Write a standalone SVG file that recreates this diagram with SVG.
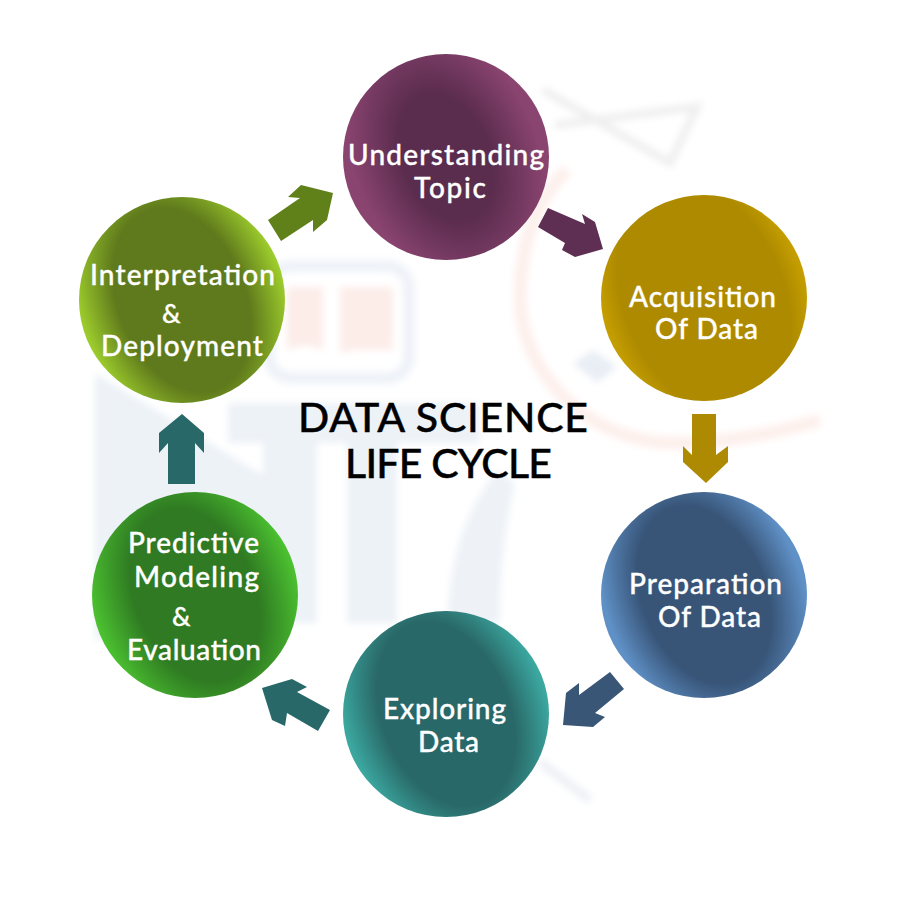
<svg xmlns="http://www.w3.org/2000/svg" width="900" height="900" viewBox="0 0 900 900">
<style>
text{font-family:"Lato","Noto Sans",sans-serif;font-weight:500}
.n{fill:#fff;stroke:#fff;stroke-width:.35px;font-size:28px}
.a{font-size:26px}
.t{fill:#000;stroke:#000;stroke-width:.45px;font-size:41px}
</style>
<defs>
<filter id="b" x="-20%" y="-20%" width="140%" height="140%"><feGaussianBlur stdDeviation="3.5"/></filter>
<radialGradient id="gP" gradientTransform="translate(.5 .5) rotate(-22) scale(1 1.5) translate(-.5 -.5)"><stop offset="0.42" stop-color="#5a2c4e"/><stop offset="0.9" stop-color="#8a4470"/></radialGradient>
<radialGradient id="gG" gradientTransform="translate(.5 .5) rotate(-22) scale(1 1.5) translate(-.5 -.5)"><stop offset="0.78" stop-color="#ae8a00"/><stop offset="1" stop-color="#c6a000"/></radialGradient>
<radialGradient id="gB" gradientTransform="translate(.5 .5) rotate(-22) scale(1 1.5) translate(-.5 -.5)"><stop offset="0.6" stop-color="#385578"/><stop offset="0.95" stop-color="#5f90c6"/></radialGradient>
<radialGradient id="gT" gradientTransform="translate(.5 .5) rotate(-22) scale(1 1.5) translate(-.5 -.5)"><stop offset="0.62" stop-color="#296868"/><stop offset="0.97" stop-color="#3ba79f"/></radialGradient>
<radialGradient id="gN" gradientTransform="translate(.5 .5) rotate(-22) scale(1 1.5) translate(-.5 -.5)"><stop offset="0.58" stop-color="#2f7a22"/><stop offset="0.98" stop-color="#4bc030"/></radialGradient>
<radialGradient id="gO" gradientTransform="translate(.5 .5) rotate(-22) scale(1 1.5) translate(-.5 -.5)"><stop offset="0.62" stop-color="#5f7a1c"/><stop offset="0.98" stop-color="#9ccb2c"/></radialGradient>
</defs>
<rect width="900" height="900" fill="#fff"/>
<g id="watermark" filter="url(#b)">
<path d="M95 373L263 475V623H317V443H228V403H480V443H397V623H347V443H317V443H263V640H95Z" fill="#edf2f7"/>
<path d="M447 623C450 560 462 515 497 470L515 483C505 530 500 570 500 623Z" fill="#eef2f7"/>
<rect x="269" y="266" width="140" height="112" rx="22" fill="none" stroke="#eef2f8" stroke-width="12"/>
<path d="M287 287H323V350L305 345L287 350Z" fill="#fcede9"/>
<path d="M340 287H393V350H355L340 353Z" fill="#fcede9"/>
<path d="M567 170C530 205 520 255 520 300C522 375 590 443 675 443C730 443 780 432 820 420" fill="none" stroke="#fdf0ec" stroke-width="13"/>
<path d="M573 363L593 350L617 367L597 383Z" fill="#e9eef5"/>
<path d="M543 90L670 163L697 107L555 125" fill="none" stroke="#efefef" stroke-width="8"/>
<path d="M540 762L590 800" fill="none" stroke="#edf0f5" stroke-width="9"/>
</g>
<g id="connectors">
<polygon fill="#5f2f53" points="548,208 585,224 582,214 595,222 603,249 575,257 562,250 565,243 538,227"/>
<polygon fill="#ad8a02" points="692,414 716,414 716,455 728,446 728,462 706,483 683,462 683,446 692,455"/>
<polygon fill="#395677" points="610,672 624,689 595,713 605,717 593,727 563,725 566,693 579,683 579,695"/>
<polygon fill="#296868" points="330,710 318,731 287,713 285,726 272,720 262,688 292,679 307,687 297,692"/>
<polygon fill="#296868" points="168,484 195,484 195,443 204,453 204,433 182,414 159,433 159,453 168,443"/>
<polygon fill="#60801a" points="268,220 281,241 313,220 313,232 327,220 333,193 301,185 288,197 300,198"/>
</g>
<g id="understanding"><circle cx="446" cy="157" r="103" fill="url(#gP)"/>
<text class="n" x="348" y="165" textLength="196">Understanding</text>
<text class="n" x="414" y="198" textLength="72">Topic</text></g>
<g id="acquisition"><circle cx="704" cy="298" r="103" fill="url(#gG)"/>
<text class="n" x="629" y="307" textLength="147">Acquisition</text>
<text class="n" x="655" y="339" textLength="103">Of Data</text></g>
<g id="preparation"><circle cx="704" cy="595" r="103" fill="url(#gB)"/>
<text class="n" x="629" y="594" textLength="153">Preparation</text>
<text class="n" x="658" y="627" textLength="103">Of Data</text></g>
<g id="exploring"><circle cx="446" cy="714" r="103" fill="url(#gT)"/>
<text class="n" x="383" y="719" textLength="123">Exploring</text>
<text class="n" x="418" y="752" textLength="61">Data</text></g>
<g id="predictive"><circle cx="195" cy="595" r="103" fill="url(#gN)"/>
<text class="n" x="128" y="553" textLength="131">Predictive</text>
<text class="n" x="134" y="587" textLength="125">Modeling</text>
<text class="n a" x="172" y="626">&amp;</text>
<text class="n" x="127" y="660" textLength="134">Evaluation</text></g>
<g id="interpretation"><circle cx="182" cy="300" r="103" fill="url(#gO)"/>
<text class="n" x="90" y="285" textLength="185">Interpretation</text>
<text class="n a" x="162" y="323">&amp;</text>
<text class="n" x="101" y="356" textLength="162">Deployment</text></g>
<g id="title">
<text class="t" x="298" y="432" textLength="290">DATA SCIENCE</text>
<text class="t" x="345" y="478" textLength="207">LIFE CYCLE</text></g>
</svg>
